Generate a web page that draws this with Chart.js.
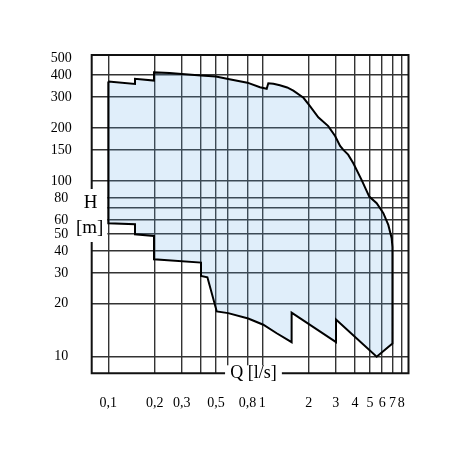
<!DOCTYPE html>
<html>
<head>
<meta charset="utf-8">
<script src="https://cdn.jsdelivr.net/npm/chart.js@4"></script>
<style>
  html, body { margin: 0; padding: 0; background: #fff; }
  #wrap { width: 452px; height: 452px; }
</style>
</head>
<body>
<div id="wrap"><canvas id="chart"></canvas></div>
<script>
"use strict";

// upper edge of the field, left to right
const qUpper = [0.1, 0.149, 0.149, 0.198, 0.198, 0.25, 0.3, 0.4, 0.5, 0.6, 0.8, 0.966, 1.068, 1.094, 1.18, 1.3, 1.45, 1.59, 1.85, 2.04, 2.31, 2.68, 2.97, 3.2, 3.36, 3.61, 3.9, 4.42, 4.95, 5.53, 6.11, 6.58, 6.92, 7.0];
const hUpper = [367, 356, 381, 372, 414, 411, 406, 397, 392, 380, 362, 341, 334, 359, 357, 350, 340, 326, 297, 266, 230, 205, 180, 158, 150, 141, 126, 101, 81.4, 74.6, 65.5, 56.2, 47.2, 42];

// lower edge of the field, right to left
const qLower = [7.0, 5.53, 3.01, 3.01, 1.55, 1.55, 1.24, 1.015, 0.81, 0.6, 0.506, 0.44, 0.4, 0.4, 0.198, 0.198, 0.149, 0.149, 0.1];
const hLower = [11.9, 10.0, 16.3, 12.1, 17.8, 12.1, 13.6, 15.2, 16.5, 17.7, 18.1, 28.3, 28.8, 34.3, 35.8, 48.6, 49.7, 56.7, 57.4];

// grid lines and tick labels
const qGrid = [0.1, 0.2, 0.3, 0.4, 0.5, 0.6, 0.8, 1, 2, 3, 4, 5, 6, 7, 8];
const qTicks = [0.1, 0.2, 0.3, 0.5, 0.8, 1, 2, 3, 4, 5, 6, 7, 8];
const hGrid = [10, 20, 30, 40, 50, 60, 70, 80, 100, 150, 200, 300, 400];
const hTicks = [10, 20, 30, 40, 50, 60, 80, 100, 150, 200, 300, 400, 500];

const serif = "'Liberation Serif', 'Times New Roman', serif";

let field = [];
for (let i = 0; i < qUpper.length; i++) field.push({ x: qUpper[i], y: hUpper[i] });
for (let i = 0; i < qLower.length; i++) field.push({ x: qLower[i], y: hLower[i] });
field.push({ x: qUpper[0], y: hUpper[0] });

function union(a, b) {
  return [...new Set(a.concat(b))].sort((m, n) => m - n).map(v => ({ value: v }));
}

const frame = {
  id: "frame",
  beforeDatasetsDraw(chart) {
    const { ctx, chartArea: a, scales: { x, y } } = chart;
    ctx.save();
    ctx.fillStyle = "#fff";
    const gTop = y.getPixelForValue(90), gBot = y.getPixelForValue(45);
    ctx.fillRect(a.left - 3, gTop, x.getPixelForValue(0.1) - a.left + 2, gBot - gTop);
    const qa = x.getPixelForValue(0.573), qb = x.getPixelForValue(1.34);
    ctx.fillRect(qa, a.bottom - 8, qb - qa, 12);
    ctx.restore();
  },
  afterDraw(chart) {
    const { ctx, chartArea: a, scales: { x, y } } = chart;
    const gTop = y.getPixelForValue(90), gBot = y.getPixelForValue(45);
    const qa = x.getPixelForValue(0.573), qb = x.getPixelForValue(1.34);
    ctx.save();
    ctx.strokeStyle = "#111";
    ctx.lineWidth = 2;
    ctx.beginPath();
    ctx.moveTo(a.left, gTop); ctx.lineTo(a.left, a.top); ctx.lineTo(a.right, a.top);
    ctx.lineTo(a.right, a.bottom); ctx.lineTo(qb, a.bottom);
    ctx.moveTo(qa, a.bottom); ctx.lineTo(a.left, a.bottom); ctx.lineTo(a.left, gBot);
    ctx.stroke();

    ctx.fillStyle = "#000";
    ctx.textAlign = "center";
    ctx.textBaseline = "middle";
    ctx.font = "19px " + serif;
    ctx.fillText("H", a.left - 1, gTop + 14);
    ctx.fillText("[m]", a.left - 2, gTop + 39);
    ctx.font = "18px " + serif;
    ctx.fillText("Q [l/s]", (qa + qb) / 2, a.bottom);
    ctx.restore();
  }
};

const ctx = document.getElementById("chart");

new Chart(ctx, {
  type: "scatter",
  data: {
    datasets: [
      {
        data: field,
        showLine: true,
        tension: 0,
        pointRadius: 0,
        borderColor: "#000",
        borderWidth: 2,
        backgroundColor: "rgba(100,170,230,0.2)",
        fill: "shape",
      },
    ],
  },
  options: {
    responsive: true,
    maintainAspectRatio: false,
    animation: false,
    layout: { padding: { top: 55, right: 43.5, left: 0, bottom: 0 } },
    plugins: { legend: { display: false }, tooltip: { enabled: false } },
    scales: {
      x: {
        type: "logarithmic",
        min: 0.078,
        max: 8.9,
        afterBuildTicks: s => { s.ticks = union(qGrid, qTicks); },
        afterFit: s => { s.height = 78.7; },
        border: { display: false },
        grid: {
          drawTicks: false,
          lineWidth: 1.4,
          color: c => (qGrid.includes(c.tick.value) ? "#333" : "rgba(0,0,0,0)"),
        },
        ticks: {
          autoSkip: false,
          maxRotation: 0,
          padding: 22,
          color: "#000",
          font: { family: serif, size: 14 },
          callback: v => (qTicks.includes(v) ? String(v).replace(".", ",") : ""),
        },
      },
      y: {
        type: "logarithmic",
        min: 8.05,
        max: 520,
        afterBuildTicks: s => { s.ticks = union(hGrid, hTicks); },
        afterFit: s => { s.width = 91.7; },
        border: { display: false },
        grid: {
          drawTicks: false,
          lineWidth: 1.4,
          color: c => (hGrid.includes(c.tick.value) ? "#333" : "rgba(0,0,0,0)"),
        },
        ticks: {
          autoSkip: false,
          crossAlign: "center",
          padding: 20,
          color: "#000",
          font: { family: serif, size: 14 },
          callback: v => (hTicks.includes(v) ? String(v) : ""),
        },
      },
    },
  },
  plugins: [frame],
});
</script>
</body>
</html>
